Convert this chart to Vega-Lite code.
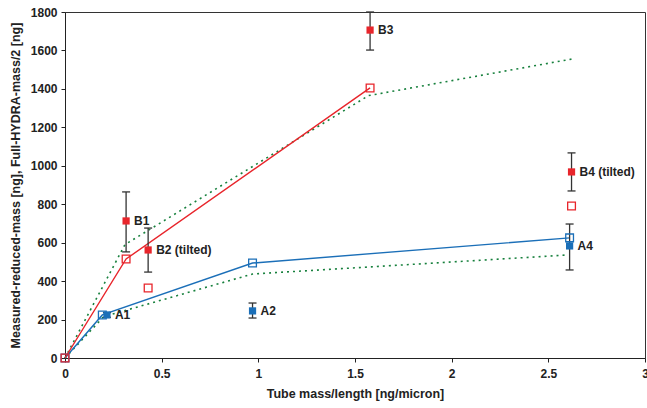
{
  "$schema": "https://vega.github.io/schema/vega-lite/v6.json",
  "autosize": "none",
  "width": 580,
  "height": 346,
  "padding": {"left": 65, "top": 12, "right": 2, "bottom": 50},
  "background": "white",
  "config": {
    "font": "Liberation Sans",
    "view": {"stroke": "#333", "strokeWidth": 1},
    "axis": {
      "grid": false,
      "domainColor": "#222",
      "tickColor": "#222",
      "labelFont": "Liberation Sans",
      "labelFontWeight": "bold",
      "labelFontSize": 12,
      "labelColor": "#222",
      "labelOverlap": false,
      "labelFlush": false,
      "titleFont": "Liberation Sans",
      "titleFontWeight": "bold",
      "titleFontSize": 12.5,
      "titleColor": "#222",
      "tickSize": 4
    }
  },
  "datasets": {
    "green": [
      {"series": "upper", "x": 0, "y": 0},
      {"series": "upper", "x": 0.31, "y": 590},
      {"series": "upper", "x": 1.57, "y": 1365},
      {"series": "upper", "x": 2.62, "y": 1555},
      {"series": "lower", "x": 0, "y": 0},
      {"series": "lower", "x": 0.2, "y": 215},
      {"series": "lower", "x": 0.97, "y": 437},
      {"series": "lower", "x": 2.6, "y": 536}
    ],
    "pred": [
      {"group": "A", "x": 0, "y": 0, "line": true},
      {"group": "A", "x": 0.193, "y": 224, "line": true},
      {"group": "A", "x": 0.97, "y": 494, "line": true},
      {"group": "A", "x": 2.61, "y": 625, "line": true},
      {"group": "B", "x": 0, "y": 0, "line": true},
      {"group": "B", "x": 0.316, "y": 515, "line": true},
      {"group": "B", "x": 0.43, "y": 364, "line": false},
      {"group": "B", "x": 1.578, "y": 1405, "line": true},
      {"group": "B", "x": 2.62, "y": 791, "line": false}
    ],
    "meas": [
      {"label": "A1", "group": "A", "x": 0.217, "y": 224, "lo": 212, "hi": 236},
      {"label": "A2", "group": "A", "x": 0.97, "y": 245, "lo": 208, "hi": 286},
      {"label": "A4", "group": "A", "x": 2.61, "y": 583, "lo": 458, "hi": 697},
      {"label": "B1", "group": "B", "x": 0.316, "y": 713, "lo": 552, "hi": 864},
      {"label": "B2 (tilted)", "group": "B", "x": 0.43, "y": 562, "lo": 447, "hi": 676},
      {"label": "B3", "group": "B", "x": 1.578, "y": 1706, "lo": 1602, "hi": 1800},
      {"label": "B4 (tilted)", "group": "B", "x": 2.62, "y": 968, "lo": 869, "hi": 1067}
    ]
  },
  "encoding": {
    "x": {"field": "x", "type": "quantitative", "scale": {"domain": [0, 3], "nice": false},
          "axis": {"values": [0, 0.5, 1, 1.5, 2, 2.5, 3], "format": "~g", "title": "Tube mass/length [ng/micron]", "labelPadding": 6, "titlePadding": 8, "labelOverlap": false}},
    "y": {"field": "y", "type": "quantitative", "scale": {"domain": [0, 1800], "nice": false},
          "axis": {"values": [0, 200, 400, 600, 800, 1000, 1200, 1400, 1600, 1800], "format": "d", "title": "Measured-reduced-mass [ng], Full-HYDRA-mass/2 [ng]", "labelPadding": 4, "titlePadding": 8, "labelOverlap": false}}
  },
  "layer": [
    {
      "data": {"name": "green"},
      "mark": {"type": "line", "color": "#17803d", "strokeWidth": 1.6, "strokeDash": [2, 4]},
      "encoding": {
        "detail": {"field": "series"}
      }
    },
    {
      "data": {"name": "pred"},
      "transform": [{"filter": "datum.line"}],
      "mark": {"type": "line", "strokeWidth": 1.4},
      "encoding": {
        "color": {"field": "group", "type": "nominal", "scale": {"domain": ["A", "B"], "range": ["#1b6fb8", "#e8252b"]}, "legend": null}
      }
    },
    {
      "data": {"name": "meas"},
      "mark": {"type": "rule", "color": "#333", "strokeWidth": 1.3},
      "encoding": {
        "y": {"field": "lo", "type": "quantitative"},
        "y2": {"field": "hi"}
      }
    },
    {
      "data": {"name": "meas"},
      "mark": {"type": "rule", "color": "#333", "strokeWidth": 1.3, "xOffset": -4, "x2Offset": 4},
      "encoding": {
        "x2": {"field": "x"},
        "y": {"field": "lo", "type": "quantitative"}
      }
    },
    {
      "data": {"name": "meas"},
      "mark": {"type": "rule", "color": "#333", "strokeWidth": 1.3, "xOffset": -4, "x2Offset": 4},
      "encoding": {
        "x2": {"field": "x"},
        "y": {"field": "hi", "type": "quantitative"}
      }
    },
    {
      "data": {"name": "pred"},
      "mark": {"type": "point", "shape": "square", "filled": false, "size": 60, "strokeWidth": 1.3, "opacity": 1},
      "encoding": {
        "color": {"field": "group", "type": "nominal", "legend": null}
      }
    },
    {
      "data": {"name": "meas"},
      "mark": {"type": "point", "shape": "square", "filled": true, "size": 52, "opacity": 1},
      "encoding": {
        "color": {"field": "group", "type": "nominal", "legend": null}
      }
    },
    {
      "data": {"name": "meas"},
      "mark": {"type": "text", "align": "left", "baseline": "middle", "dx": 8, "font": "Liberation Sans", "fontWeight": "bold", "fontSize": 12, "color": "#222"},
      "encoding": {
        "text": {"field": "label"}
      }
    }
  ]
}
